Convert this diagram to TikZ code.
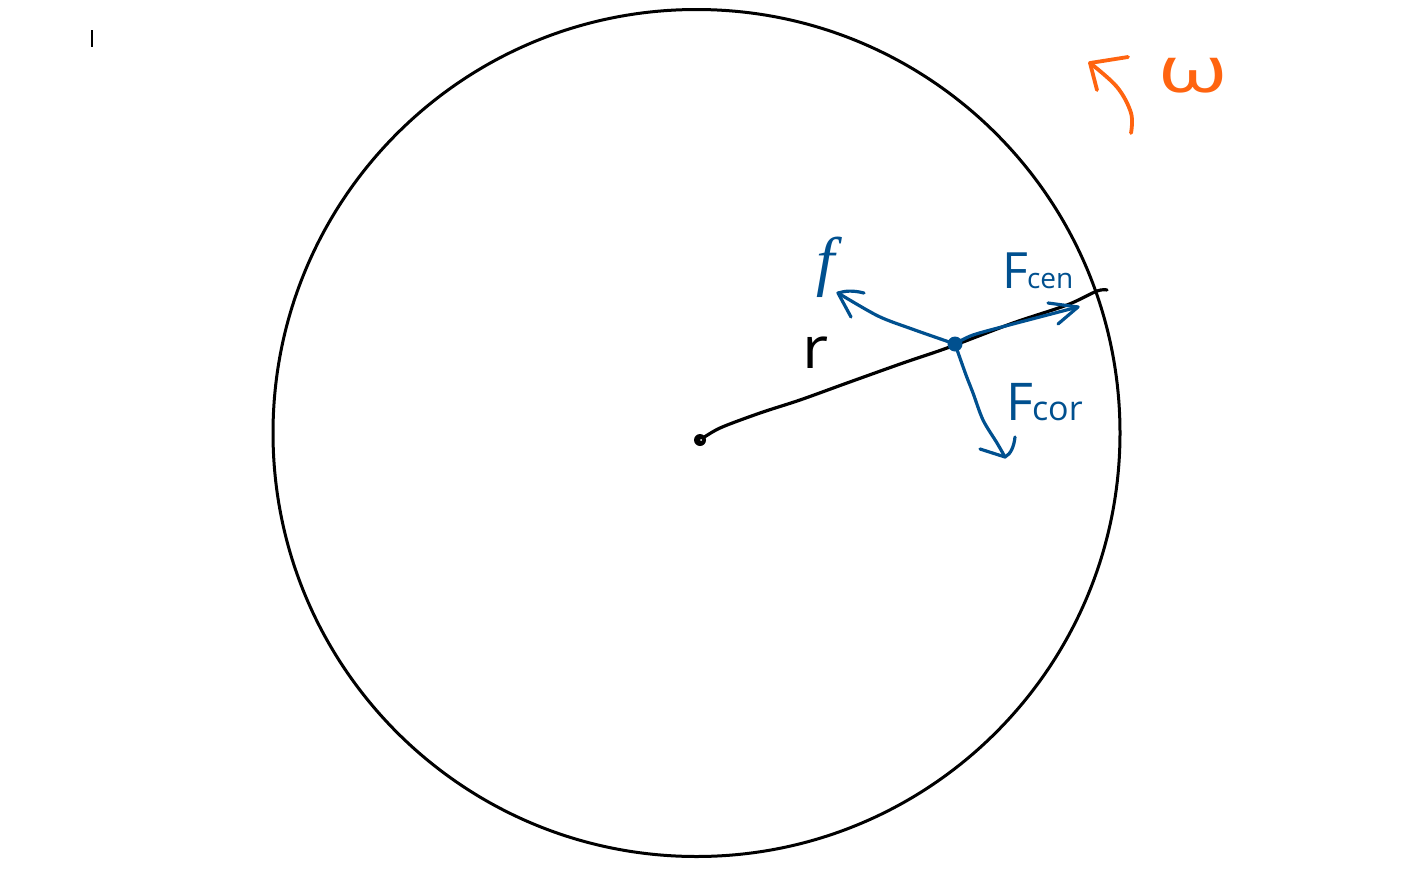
\documentclass[tikz,border=0pt]{standalone}
\usepackage{fontspec}
\setmainfont{Open Sans}
\newfontfamily\ifont{Liberation Serif}
\definecolor{penblue}{HTML}{00508F}
\definecolor{penorange}{HTML}{FF6410}
\tikzset{
  ink/.style={line width=3.2pt,line cap=round,line join=round},
  blackink/.style={ink,black},
  blueink/.style={ink,penblue,line width=3.2pt},
  orangeink/.style={ink,penorange,line width=3.8pt},
  lbl/.style={inner sep=0pt,anchor=base west,penblue},
}
\newcommand{\fs}[1]{\fontsize{#1}{#1}\selectfont}
\begin{document}
\begin{tikzpicture}[x=1pt,y=-1pt]
\useasboundingbox (0,0) rectangle (1415,878);
\fill[white] (0,0) rectangle (1415,878);
% cursor mark
\coordinate (curA) at (92,30);
\coordinate (curB) at (92,47);
\draw[black,line width=1.2pt] (curA) -- (curB);
% disc
\node[circle,draw=black,line width=3pt,minimum size=847pt,inner sep=0pt] (disc) at (696.5,433) {};
% radius
\coordinate (pivot) at (700,440);
\coordinate (rim) at (1107,290);
\coordinate (mass) at (955,344);
\fill[black] (pivot) circle (6pt);
\draw[blackink] plot[smooth,tension=0.5] coordinates {(pivot) (720,428) (760,413) (800,400) (847,383) (903,363) (947,348) (1013,323) (1067,305) (1097,291) (rim)};
\fill[white] (701,440) circle (1pt);
\node[inner sep=0pt,anchor=base west,black] (rlabel) at (802,368) {\fs{58}\scalebox{1.1}[1]{r}};
% blue forces
\coordinate (ftip) at (838,293);
\coordinate (cenTip) at (1078,307);
\coordinate (corTip) at (1005,457);
\draw[blueink] plot[smooth,tension=0.5] coordinates {(mass) (912,329) (878,316) (ftip)};
\draw[blueink] (864,293) .. controls (852,290) and (845,291) .. (ftip) -- (851,317);
\draw[blueink] plot[smooth,tension=0.5] coordinates {(mass) (973,335) (1013,324) (cenTip)};
\draw[blueink] (1048,303) -- (cenTip) -- (1058,324);
\draw[blueink] plot[smooth,tension=0.5] coordinates {(mass) (966,375) (973,393) (983,420) (997,443) (corTip)};
\draw[blueink] (980,449) -- (corTip) .. controls (1011,454) and (1014,446) .. (1015,437);
\fill[penblue] (mass) circle (7.5pt);
\node[lbl] (flabel) at (816,283) {\ifont\itshape\fs{66}f};
\node[lbl] (fcen) at (1002,288) {\fs{50}F\fs{28}\kern-1pt cen};
\node[lbl] (fcor) at (1006,420) {\fs{52}F\fs{34}\kern-1pt cor};
% orange rotation
\coordinate (wTail) at (1131,133);
\coordinate (wTip) at (1090,63);
\draw[orangeink] plot[smooth,tension=0.6] coordinates {(wTail) (1131,113) (1117,87) (wTip)};
\draw[orangeink] (1128,57) -- (wTip) -- (1097,90);
\node[inner sep=0pt,anchor=base west,penorange] (omega) at (1158,92) {\fs{64}\scalebox{1.4}[1]{ω}};
\end{tikzpicture}
\end{document}
